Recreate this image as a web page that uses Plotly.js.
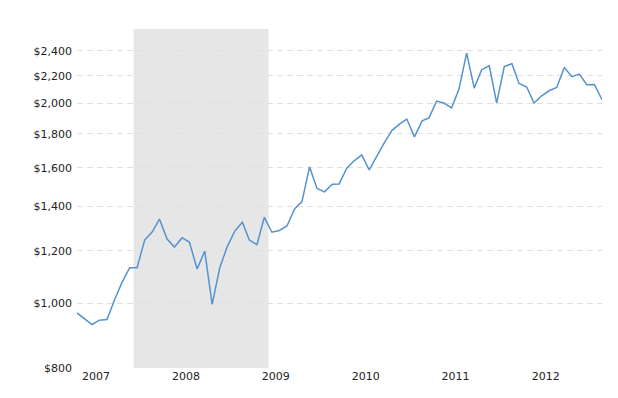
<!DOCTYPE html>
<html>
<head>
<meta charset="utf-8">
<script src="https://cdn.plot.ly/plotly-3.0.1.min.js"></script>
<style>html,body{margin:0;padding:0;background:#fff;}#chart{width:618px;height:398px;}</style>
</head>
<body>
<div id="chart"></div>
<script>
// Monthly observations, April 2007 – February 2013
const months = [
  "2007-04-15","2007-05-15","2007-06-15","2007-07-15","2007-08-15","2007-09-15","2007-10-15","2007-11-15","2007-12-15",
  "2008-01-15","2008-02-15","2008-03-15","2008-04-15","2008-05-15","2008-06-15","2008-07-15","2008-08-15","2008-09-15","2008-10-15","2008-11-15","2008-12-15",
  "2009-01-15","2009-02-15","2009-03-15","2009-04-15","2009-05-15","2009-06-15","2009-07-15","2009-08-15","2009-09-15","2009-10-15","2009-11-15","2009-12-15",
  "2010-01-15","2010-02-15","2010-03-15","2010-04-15","2010-05-15","2010-06-15","2010-07-15","2010-08-15","2010-09-15","2010-10-15","2010-11-15","2010-12-15",
  "2011-01-15","2011-02-15","2011-03-15","2011-04-15","2011-05-15","2011-06-15","2011-07-15","2011-08-15","2011-09-15","2011-10-15","2011-11-15","2011-12-15",
  "2012-01-15","2012-02-15","2012-03-15","2012-04-15","2012-05-15","2012-06-15","2012-07-15","2012-08-15","2012-09-15","2012-10-15","2012-11-15","2012-12-15",
  "2013-01-15","2013-02-15"
];
const prices = [
  968, 948, 930, 944, 946, 1014, 1076, 1132, 1132,
  1246, 1282, 1340, 1250, 1216, 1256, 1236, 1127, 1199, 997, 1132, 1217,
  1285, 1325, 1246, 1226, 1348, 1280, 1288, 1308, 1387, 1423, 1605, 1489,
  1472, 1511, 1513, 1598, 1639, 1673, 1588, 1666, 1746, 1820, 1861, 1894,
  1781, 1882, 1902, 2016, 2002, 1969, 2101, 2379, 2108, 2247, 2278, 2002,
  2272, 2294, 2142, 2116, 2002, 2053, 2089, 2113, 2265, 2193, 2213, 2133,
  2135, 2025
];
// Recession period (shaded)
const recessionStart = "2007-12-01";
const recessionEnd = "2009-06-01";
// Axis ticks
const xTickVals = ["2007-07-01","2008-07-01","2009-07-01","2010-07-01","2011-07-01","2012-07-01"];
const xTickText = ["2007","2008","2009","2010","2011","2012"];
const yTickVals = [800, 1000, 1200, 1400, 1600, 1800, 2000, 2200, 2400];
const yTickText = ["$800","$1,000","$1,200","$1,400","$1,600","$1,800","$2,000","$2,200","$2,400"];

const trace = {
  x: months,
  y: prices,
  type: "scatter",
  mode: "lines",
  line: {color: "#5592d0", width: 1.5},
  hoverinfo: "x+y"
};

const layout = {
  width: 618,
  height: 398,
  margin: {l: 77, r: 16, t: 29, b: 30},
  paper_bgcolor: "#ffffff",
  plot_bgcolor: "#ffffff",
  showlegend: false,
  font: {family: "DejaVu Sans, Verdana, sans-serif", size: 11, color: "#222"},
  xaxis: {
    type: "date",
    range: [months[0], months[months.length - 1]],
    tickvals: xTickVals,
    ticktext: xTickText,
    showgrid: false,
    zeroline: false,
    showline: false,
    ticks: "",
    tickfont: {size: 11, color: "#222"}
  },
  yaxis: {
    type: "log",
    range: [Math.log10(800), Math.log10(2587)],
    tickvals: yTickVals,
    ticktext: yTickText,
    showgrid: true,
    gridcolor: "#e0e0e0",
    griddash: "6px,4px",
    gridwidth: 1,
    zeroline: false,
    showline: false,
    ticks: "",
    ticklabelstandoff: 4,
    tickfont: {size: 11, color: "#222"}
  },
  shapes: [{
    type: "rect",
    xref: "x",
    yref: "paper",
    x0: recessionStart,
    x1: recessionEnd,
    y0: 0,
    y1: 1,
    fillcolor: "#e6e6e6",
    line: {width: 0},
    layer: "below"
  }]
};

Plotly.newPlot("chart", [trace], layout, {displayModeBar: false, staticPlot: true});
</script>
</body>
</html>
